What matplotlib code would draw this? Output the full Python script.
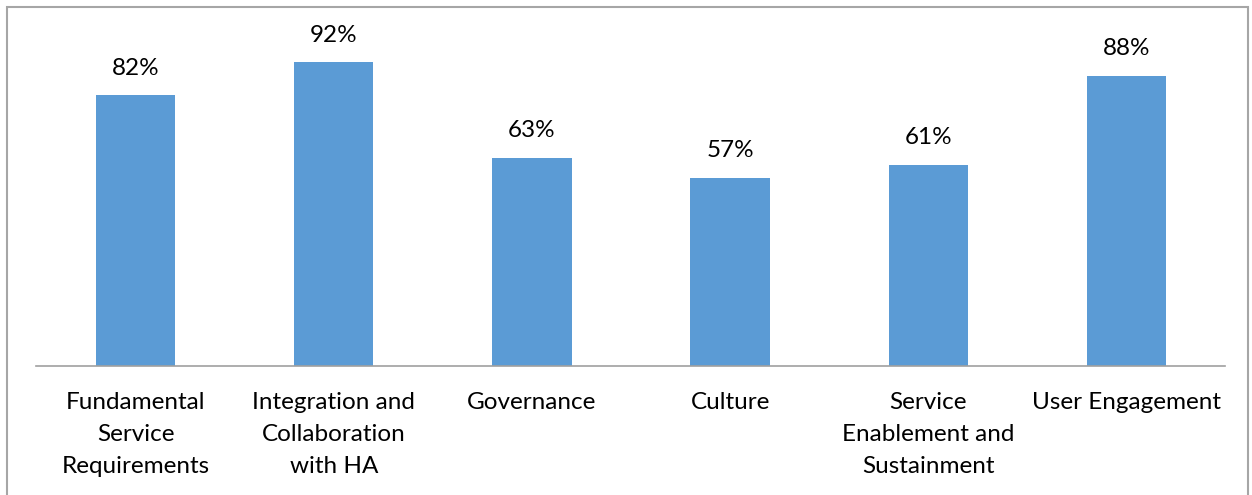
import matplotlib.pyplot as plt
from matplotlib.patches import Rectangle

categories = ["Fundamental\nService\nRequirements", "Integration and\nCollaboration\nwith HA",
              "Governance", "Culture", "Service\nEnablement and\nSustainment", "User Engagement"]
values = [82, 92, 63, 57, 61, 88]
labels = ["82%", "92%", "63%", "57%", "61%", "88%"]

plt.rcParams['font.family'] = ['Lato', 'DejaVu Sans']

fig = plt.figure(figsize=(12.52, 4.95), dpi=100)
ax = fig.add_axes([36.5 / 1252, 1 - 366 / 495, (1225.5 - 36.5) / 1252, (366 - 36) / 495])

x = range(len(categories))
ax.bar(x, values, width=0.4, color='#5b9bd5')
ax.set_xlim(-0.5, len(categories) - 0.5)
ax.set_ylim(0, 100)

for xi, v, lab in zip(x, values, labels):
    ax.annotate(lab, (xi, v), xytext=(0, 12), textcoords='offset points',
                ha='center', va='bottom', fontsize=17.5, color='black')

ax.set_xticks(list(x))
ax.set_xticklabels(categories, fontsize=17.5, linespacing=1.65, va='top')
ax.tick_params(axis='x', length=0, pad=19)
ax.set_yticks([])
for s in ['top', 'left', 'right']:
    ax.spines[s].set_visible(False)
ax.spines['bottom'].set_color('#a0a0a0')
ax.spines['bottom'].set_linewidth(1.2)

# chart frame
fig.patches.append(Rectangle((7 / 1252, -0.1), (1248 - 7) / 1252, 1.1 - 7 / 495,
                             transform=fig.transFigure, fill=False,
                             edgecolor='#a6a6a6', linewidth=1.5))

fig.savefig("out.png", dpi=100)
